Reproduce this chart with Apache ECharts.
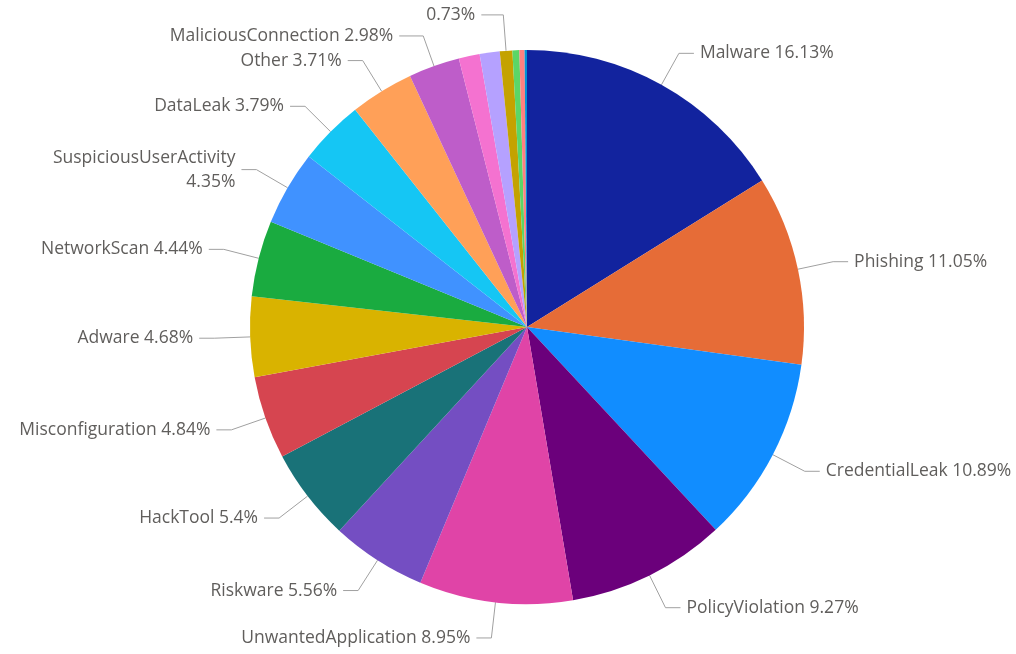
<!DOCTYPE html>
<html>
<head>
<meta charset="utf-8">
<script src="https://cdn.jsdelivr.net/npm/echarts@6/dist/echarts.min.js"></script>
<style>
html,body{margin:0;padding:0;background:#fff;}
#chart{width:1016px;height:654px;}
</style>
</head>
<body>
<div id="chart"></div>
<script>
const categories = ["Malware","Phishing","CredentialLeak","PolicyViolation","UnwantedApplication","Riskware","HackTool","Misconfiguration","Adware","NetworkScan","SuspiciousUserActivity","DataLeak","Other","MaliciousConnection","Ransomware","Spyware","Trojan","Worm","Exploit","Backdoor"];
const values = [16.13,11.05,10.89,9.27,8.95,5.56,5.4,4.84,4.68,4.44,4.35,3.79,3.71,2.98,1.22,1.17,0.73,0.40,0.30,0.14];
const colors = ["#12239E","#E66C37","#118DFF","#6B007B","#E044A7","#744EC2","#197278","#D64550","#D9B300","#1AAB40","#4092FF","#15C6F4","#FFA058","#BE5DC9","#F472D0","#B5A1FF","#C4A200","#5BD667","#FF8080","#0091D5"];
const hiddenLabel = ["Ransomware","Spyware","Worm","Exploit","Backdoor"];

const lineOverrides = {
  "MaliciousConnection": {show:true, length:32, length2:24},
  "Trojan": {show:true, length:36, length2:22}
};

const chart = echarts.init(document.getElementById('chart'));
const data = categories.map((c,i)=>{
  const d = {name:c, value:values[i], itemStyle:{color:colors[i]}};
  if (hiddenLabel.includes(c)) { d.label={show:false}; d.labelLine={show:false}; }
  if (lineOverrides[c]) { d.labelLine = lineOverrides[c]; d.label = {show:true}; }
  return d;
});
chart.setOption({
  animation:false,
  series:[{
    type:'pie',
    center:[527,327],
    radius:[0,277],
    startAngle:90,
    clockwise:true,
    avoidLabelOverlap:false,
    itemStyle:{borderWidth:0},
    label:{
      show:true,
      fontFamily:'"Segoe UI","Open Sans",sans-serif',
      fontSize:17.5,
      color:'#605E5C',
      lineHeight:24,
      overflow:'none',
      distanceToLabelLine:6,
      formatter:function(p){
        if (p.name==='Trojan') return p.value+'%';
        if (p.name==='SuspiciousUserActivity') return p.name+'\n'+p.value+'%';
        return p.name+' '+p.value+'%';
      }
    },
    labelLayout:{hideOverlap:false},
    labelLine:{show:true,length:36,length2:15,lineStyle:{color:'#A0A0A0',width:1}},
    data:data
  }]
});
</script>
</body>
</html>
